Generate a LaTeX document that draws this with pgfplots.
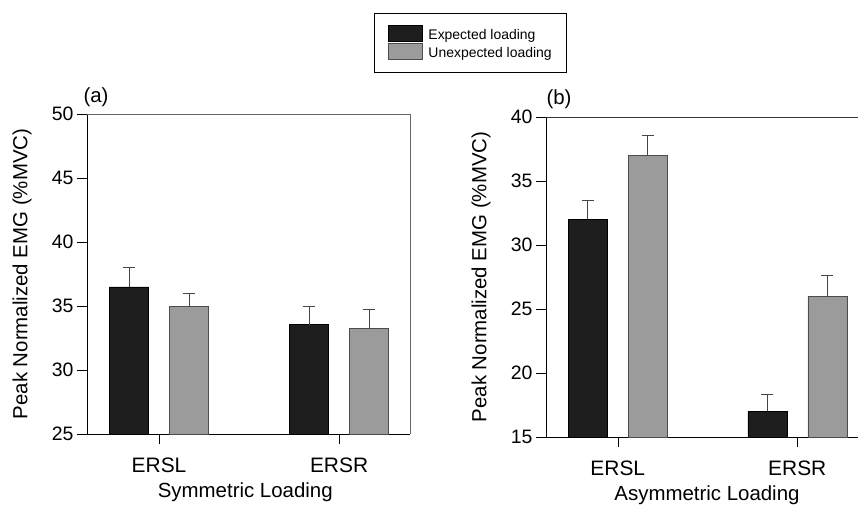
\documentclass[border=0pt]{standalone}
\usepackage{pgfplots}
\pgfplotsset{compat=1.18}
\usepackage{fontspec}
\setmainfont{Liberation Sans}
\definecolor{expc}{RGB}{30,30,30}
\definecolor{unexpc}{RGB}{155,155,155}
\definecolor{errc}{RGB}{70,70,70}

\pgfplotsset{
  panel/.style={
    scale only axis, height=320bp,
    xmin=-0.4, xmax=1.394,
    xtick={0,1}, xticklabels={ERSL,ERSR},
    ybar, bar width=39bp,
    axis x line*=bottom, axis y line*=left,
    tick align=outside, major tick length=10bp,
    tick style={black, line width=0.6bp},
    axis line style={line width=0.8bp, black, -},
    yticklabel style={font=\fontsize{19.5}{23}\selectfont},
    xticklabel style={yshift=-10bp, font=\fontsize{21}{24}\selectfont},
    /pgf/number format/assume math mode=true,
    ylabel={Peak Normalized EMG (\%MVC)},
    every axis y label/.style={at={([xshift=-65bp]axis description cs:0,0.5)}, rotate=90, anchor=center, font=\fontsize{20.5}{24}\selectfont},
    legend image code/.code={\draw[#1, line width=0.4bp] (0bp,-6bp) rectangle (34bp,10bp);},
    error bars/y dir=plus, error bars/y explicit,
    error bars/error bar style={line width=0.7bp, errc},
    error bars/error mark options={rotate=90, mark size=6bp, line width=0.7bp, errc},
  },
  expbar/.style={fill=expc, draw=black, line width=0.4bp, bar shift=-30bp},
  unexpbar/.style={fill=unexpc, draw=black!70, line width=0.4bp, bar shift=30bp},
}

\begin{document}
\begin{tikzpicture}
\path[use as bounding box] (0,0) rectangle (858bp,-506bp);
\clip (0,0) rectangle (858bp,-506bp);

% Panel (a)
\begin{axis}[panel, width=323bp,
  at={(87bp,-434bp)}, anchor=south west,
  ymin=25, ymax=50, ytick={25,30,35,40,45,50},
  xlabel={Symmetric Loading},
  every axis x label/.style={at={([yshift=-63bp]axis description cs:0.49,0)}, anchor=base, font=\fontsize{20.5}{24}\selectfont},
  legend style={at={(rel axis cs:1.187,1.2234)}, anchor=center, draw=black, line width=0.6bp,
    font=\fontsize{14}{16}\selectfont, inner xsep=13bp, inner ysep=12bp,
    nodes={inner sep=1.5bp}, column sep=5bp, row sep=0bp},
  legend cell align=left,
  extra description/.code={
    \draw[line width=0.5bp, black!60] (axis description cs:0,1) -- (axis description cs:1,1) -- (axis description cs:1,0);
    \node[font=\fontsize{20.5}{24}\selectfont] at ([xshift=9bp,yshift=17bp]axis description cs:0,1) {(a)};
  },
]
\addplot[expbar] coordinates {(0,36.5) +- (0,1.5) (1,33.55) +- (0,1.45)};
\addlegendentry{Expected loading}
\addplot[unexpbar] coordinates {(0,35.0) +- (0,1.0) (1,33.25) +- (0,1.5)};
\addlegendentry{Unexpected loading}
\end{axis}

% Panel (b)
\begin{axis}[panel, width=322bp,
  at={(546bp,-437bp)}, anchor=south west,
  ymin=15, ymax=40, ytick={15,20,25,30,35,40},
  xlabel={Asymmetric Loading},
  every axis x label/.style={at={([yshift=-63.5bp]axis description cs:0.5,0)}, anchor=base, font=\fontsize{20.5}{24}\selectfont},
  extra description/.code={
    \draw[line width=0.6bp, black!80] (axis description cs:0,1) -- (axis description cs:1,1) -- (axis description cs:1,0);
    \node[font=\fontsize{20.5}{24}\selectfont] at ([xshift=13bp,yshift=17.5bp]axis description cs:0,1) {(b)};
  },
]
\addplot[expbar] coordinates {(0,32.0) +- (0,1.45) (1,17.0) +- (0,1.3)};
\addplot[unexpbar] coordinates {(0,37.0) +- (0,1.6) (1,26.0) +- (0,1.6)};
\end{axis}
\end{tikzpicture}
\end{document}
